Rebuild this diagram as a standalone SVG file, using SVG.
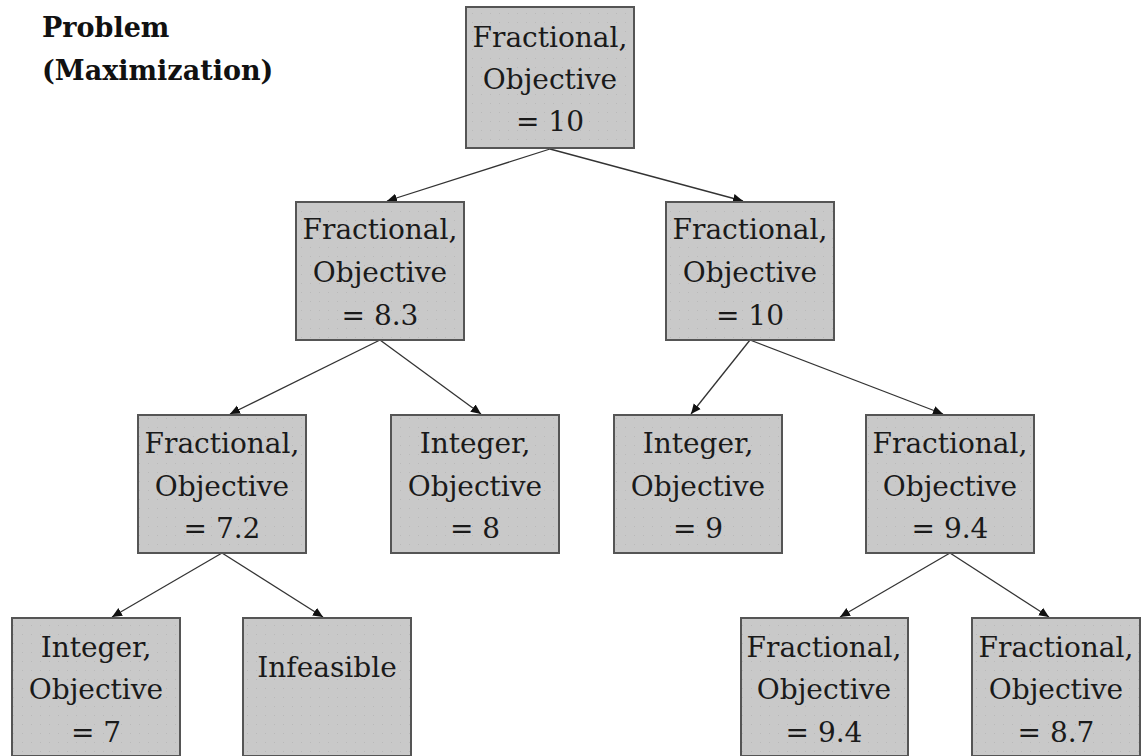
<svg xmlns="http://www.w3.org/2000/svg" width="1146" height="756" viewBox="0 0 1146 756">
<defs>
<pattern id="dots" width="9" height="9" patternUnits="userSpaceOnUse">
<rect width="9" height="9" fill="#c9c9c9"/>
<rect x="4" y="4" width="1" height="1" fill="#b9b9b9"/>
</pattern>
<marker id="arr" viewBox="0 0 10 10" refX="10" refY="5" markerWidth="10" markerHeight="10" markerUnits="userSpaceOnUse" orient="auto">
<path d="M0,0.5 L10,5 L0,9.5 Z" fill="#111"/>
</marker>
</defs>
<style>
.box{fill:url(#dots);stroke:#555;stroke-width:2}
.t{font-family:'DejaVu Serif',serif;font-size:28px;fill:#1a1a1a;text-anchor:middle}
.title{font-family:'DejaVu Serif',serif;font-size:27px;font-weight:bold;fill:#111}
.c{stroke:#333;stroke-width:1.3;fill:none;marker-end:url(#arr)}
</style>
<rect width="1146" height="756" fill="#fff"/>
<g id="title">
<text class="title" x="42" y="37">Problem</text>
<text class="title" x="42" y="80">(Maximization)</text>
</g>
<g id="connectors">
<line class="c" x1="550" y1="149" x2="387" y2="201"/>
<line class="c" x1="550" y1="149" x2="743" y2="201"/>
<line class="c" x1="380" y1="340" x2="230" y2="414"/>
<line class="c" x1="380" y1="340" x2="481" y2="414"/>
<line class="c" x1="750" y1="340" x2="691" y2="414"/>
<line class="c" x1="750" y1="340" x2="943" y2="414"/>
<line class="c" x1="222" y1="553" x2="112" y2="617"/>
<line class="c" x1="222" y1="553" x2="323" y2="617"/>
<line class="c" x1="950" y1="553" x2="840" y2="617"/>
<line class="c" x1="950" y1="553" x2="1049" y2="617"/>
</g>
<g id="root">
<rect class="box" x="466" y="7" width="168" height="141"/>
<text class="t" x="550" y="47">Fractional,</text>
<text class="t" x="550" y="89">Objective</text>
<text class="t" x="550" y="131">= 10</text>
</g>
<g id="n1">
<rect class="box" x="296" y="202" width="168" height="138"/>
<text class="t" x="380" y="239">Fractional,</text>
<text class="t" x="380" y="282">Objective</text>
<text class="t" x="380" y="325">= 8.3</text>
</g>
<g id="n2">
<rect class="box" x="666" y="202" width="168" height="138"/>
<text class="t" x="750" y="239">Fractional,</text>
<text class="t" x="750" y="282">Objective</text>
<text class="t" x="750" y="325">= 10</text>
</g>
<g id="n3">
<rect class="box" x="138" y="415" width="168" height="138"/>
<text class="t" x="222" y="453">Fractional,</text>
<text class="t" x="222" y="496">Objective</text>
<text class="t" x="222" y="538">= 7.2</text>
</g>
<g id="n4">
<rect class="box" x="391" y="415" width="168" height="138"/>
<text class="t" x="475" y="453">Integer,</text>
<text class="t" x="475" y="496">Objective</text>
<text class="t" x="475" y="538">= 8</text>
</g>
<g id="n5">
<rect class="box" x="614" y="415" width="168" height="138"/>
<text class="t" x="698" y="453">Integer,</text>
<text class="t" x="698" y="496">Objective</text>
<text class="t" x="698" y="538">= 9</text>
</g>
<g id="n6">
<rect class="box" x="866" y="415" width="168" height="138"/>
<text class="t" x="950" y="453">Fractional,</text>
<text class="t" x="950" y="496">Objective</text>
<text class="t" x="950" y="538">= 9.4</text>
</g>
<g id="n7">
<rect class="box" x="12" y="618" width="168" height="138"/>
<text class="t" x="96" y="657">Integer,</text>
<text class="t" x="96" y="699">Objective</text>
<text class="t" x="96" y="742">= 7</text>
</g>
<g id="n8">
<rect class="box" x="243" y="618" width="168" height="138"/>
<text class="t" x="327" y="677">Infeasible</text>
</g>
<g id="n9">
<rect class="box" x="741" y="618" width="167" height="138"/>
<text class="t" x="824" y="657">Fractional,</text>
<text class="t" x="824" y="699">Objective</text>
<text class="t" x="824" y="742">= 9.4</text>
</g>
<g id="n10">
<rect class="box" x="972" y="618" width="168" height="138"/>
<text class="t" x="1056" y="657">Fractional,</text>
<text class="t" x="1056" y="699">Objective</text>
<text class="t" x="1056" y="742">= 8.7</text>
</g>
</svg>
